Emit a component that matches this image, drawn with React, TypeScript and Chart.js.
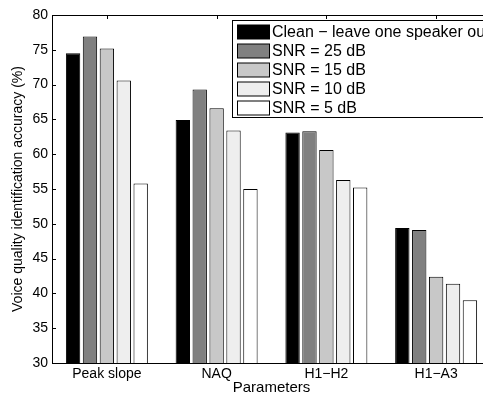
import React, { useEffect, useRef } from "react";
import { Chart, registerables } from "chart.js";

Chart.register(...registerables);

const categories = ["Peak slope", "NAQ", "H1\u2212H2", "H1\u2212A3"];
const seriesNames = [
  "Clean \u2212 leave one speaker out",
  "SNR = 25 dB",
  "SNR = 15 dB",
  "SNR = 10 dB",
  "SNR = 5 dB",
];
const cleanValues = [74.5, 64.9, 63.1, 49.4];
const snr25Values = [76.9, 69.3, 63.3, 49.1];
const snr15Values = [75.2, 66.6, 60.6, 42.4];
const snr10Values = [70.6, 63.4, 56.3, 41.4];
const snr5Values = [55.8, 55.0, 55.2, 39.0];
const seriesColors = ["#000000", "#808080", "#c8c8c8", "#eeeeee", "#ffffff"];
const yTicks = [30, 35, 40, 45, 50, 55, 60, 65, 70, 75, 80];

const FONT = "'Liberation Sans', Arial, sans-serif";

const framePlugin = {
  id: "frame",
  afterDatasetsDraw(chart: any) {
    const { ctx, chartArea, scales } = chart;
    const { left, right, top, bottom } = chartArea;
    ctx.save();
    ctx.strokeStyle = "#000";
    ctx.lineWidth = 1;
    ctx.beginPath();
    ctx.rect(Math.round(left) + 0.5, Math.round(top) + 0.5, Math.round(right - left), Math.round(bottom - top));
    ctx.stroke();
    const ys = scales.y;
    ctx.beginPath();
    yTicks.forEach((v) => {
      const y = Math.round(ys.getPixelForValue(v)) + 0.5;
      ctx.moveTo(left, y);
      ctx.lineTo(left + 4, y);
      ctx.moveTo(right, y);
      ctx.lineTo(right - 4, y);
    });
    const xs = scales.x;
    categories.forEach((_, i) => {
      const x = Math.round(xs.getPixelForValue(i)) + 0.5;
      ctx.moveTo(x, top);
      ctx.lineTo(x, top + 4);
    });
    ctx.stroke();
    ctx.restore();
  },
  afterDraw(chart: any) {
    const { ctx } = chart;
    ctx.save();
    const bx = 232.5;
    const by = 20.5;
    ctx.fillStyle = "#fff";
    ctx.fillRect(bx, by, 300, 97);
    ctx.strokeStyle = "#000";
    ctx.lineWidth = 1;
    ctx.strokeRect(bx, by, 300, 97);
    ctx.font = `16px ${FONT}`;
    ctx.textBaseline = "middle";
    seriesNames.forEach((name, i) => {
      const cy = 32 + i * 19;
      ctx.fillStyle = seriesColors[i];
      ctx.fillRect(237.5, cy - 7, 32, 14);
      ctx.strokeStyle = "#000";
      ctx.strokeRect(237.5, cy - 7, 32, 14);
      ctx.fillStyle = "#000";
      ctx.fillText(name, 272, cy + 1);
    });
    ctx.restore();
  },
};

export default function App() {
  const ref = useRef<HTMLCanvasElement | null>(null);
  useEffect(() => {
    if (!ref.current) return;
    const values = [cleanValues, snr25Values, snr15Values, snr10Values, snr5Values];
    const chart = new Chart(ref.current, {
      type: "bar",
      data: {
        labels: categories,
        datasets: values.map((d, i) => ({
          label: seriesNames[i],
          data: d,
          backgroundColor: seriesColors[i],
          borderColor: "#000",
          borderWidth: 1,
          categoryPercentage: 0.77,
          barPercentage: 0.85,
        })),
      },
      options: {
        responsive: false,
        animation: false,
        layout: { padding: { top: 15, right: 9, left: 0, bottom: 0 } },
        plugins: { legend: { display: false }, tooltip: { enabled: false } },
        scales: {
          x: {
            grid: { display: false, drawTicks: false },
            border: { display: false },
            ticks: { color: "#000", font: { family: FONT, size: 14 }, padding: 3, maxRotation: 0 },
            title: {
              display: true,
              text: "Parameters",
              color: "#000",
              font: { family: FONT, size: 15, lineHeight: 1 },
              padding: { top: 0, bottom: 1 },
            },
            afterFit(scale: any) {
              scale.height = 33;
            },
          },
          y: {
            min: 30,
            max: 80,
            grid: { display: false, drawTicks: false },
            border: { display: false },
            ticks: {
              stepSize: 5,
              color: "#000",
              font: { family: FONT, size: 14 },
              padding: 4,
            },
            title: {
              display: true,
              text: "Voice quality identification accuracy (%)",
              color: "#000",
              font: { family: FONT, size: 14 },
              padding: { top: 10, bottom: 0 },
            },
            afterFit(scale: any) {
              scale.width = 52;
            },
          },
        },
      },
      plugins: [framePlugin],
    });
    return () => chart.destroy();
  }, []);
  return (
    <div style={{ position: "fixed", left: 0, top: 0, width: 483, height: 396, overflow: "hidden", background: "#fff" }}>
      <canvas ref={ref} width={500} height={396} style={{ display: "block" }} />
    </div>
  );
}
